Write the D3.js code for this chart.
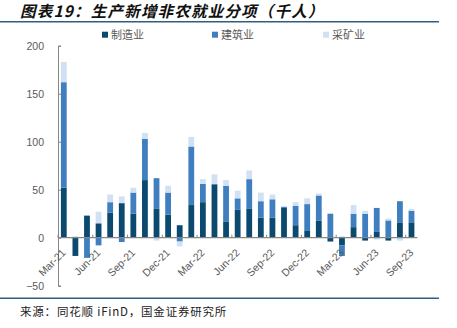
<!DOCTYPE html>
<html><head><meta charset="utf-8">
<script src="https://cdn.jsdelivr.net/npm/d3@7"></script>
<style>
html,body{margin:0;padding:0;background:#fff;}
svg{display:block;}
</style></head>
<body>
<svg id="c" width="457" height="328"></svg>
<script>
const months = ["Mar-21","Apr-21","May-21","Jun-21","Jul-21","Aug-21","Sep-21","Oct-21","Nov-21","Dec-21",
"Jan-22","Feb-22","Mar-22","Apr-22","May-22","Jun-22","Jul-22","Aug-22","Sep-22","Oct-22","Nov-22","Dec-22",
"Jan-23","Feb-23","Mar-23","Apr-23","May-23","Jun-23","Jul-23","Aug-23","Sep-23"];
const seriesNames = ["制造业","建筑业","采矿业"];
const manufacturing = [52,-19,23,15,26,36,25,60,30,24,13,34,37,55,17,29,30,21,21,31,13,7,18,-4,-8,11,-3,6,-3,16,16];
const construction = [110,0,-21,-8,11,-4.5,22,43,32,23,-4,61,19,1,37,12,31,17,19,1,20,28,26,25,-11,14,25,25,18,22,12];
const mining = [21,1.5,0,12,8,7,5,6,-3,7,-5,10,5,10,6,8,9,9,5,1,4,6,2,0,1.5,9,3,-2,2,-3,2];
const yTicks = [-50,0,50,100,150,200];
const colors = ["#0b4a6e","#3f7fc0","#cfe1f2"];

const title = "图表19：生产新增非农就业分项（千人）";
const source = "来源：同花顺 iFinD，国金证券研究所";

const svg = d3.select("#c");
const table = months.map((m,i)=>({m, "制造业":manufacturing[i], "建筑业":construction[i], "采矿业":mining[i]}));

const x = d3.scaleBand().domain(months).range([58, 417.3]).paddingInner(0.5).paddingOuter(0.25);
const y = d3.scaleLinear().domain([-50,200]).range([285.7,45.7]);

// title
svg.append("text").attr("x",20).attr("y",16.5)
  .attr("font-family","'Noto Sans CJK SC'").attr("font-size",15.5).attr("font-weight","bold")
  .attr("font-style","italic").attr("letter-spacing",1.2).attr("fill","#111").text(title);
svg.append("line").attr("x1",0).attr("x2",439).attr("y1",21.7).attr("y2",21.7)
  .attr("stroke","#2e5f82").attr("stroke-width",1.5);
svg.append("line").attr("x1",0).attr("x2",439).attr("y1",298.3).attr("y2",298.3)
  .attr("stroke","#2e5f82").attr("stroke-width",1.5);
svg.append("text").attr("x",20).attr("y",316)
  .attr("font-family","'Noto Sans CJK SC'").attr("font-size",11.5).attr("letter-spacing",0.8)
  .attr("fill","#222").text(source);

// legend
const legX = [102,212,323];
seriesNames.forEach((s,i)=>{
  svg.append("rect").attr("x",legX[i]).attr("y",31.7).attr("width",6).attr("height",6).attr("fill",colors[i]);
  svg.append("text").attr("x",legX[i]+9).attr("y",39.3)
    .attr("font-family","'Noto Sans CJK SC'").attr("font-size",11).attr("fill","#595959").text(s);
});

// bars
const stack = d3.stack().keys(seriesNames).offset(d3.stackOffsetDiverging);
const layers = stack(table);
svg.append("g").selectAll("g").data(layers).join("g")
  .attr("fill",(d,i)=>colors[i])
  .selectAll("rect").data(d=>d).join("rect")
  .attr("x",d=>x(d.data.m)).attr("width",x.bandwidth())
  .attr("y",d=>y(Math.max(d[0],d[1]))).attr("height",d=>Math.abs(y(d[0])-y(d[1])));

// y axis
const yAxis = d3.axisLeft(y).tickValues(yTicks).tickSizeInner(-3).tickSizeOuter(-3).tickPadding(14);
const gy = svg.append("g").attr("transform","translate(58,0)").call(yAxis);
gy.selectAll("path,line").attr("stroke","#868686");
gy.selectAll("text").attr("font-family","'Liberation Sans',Arial").attr("font-size",10.5).attr("fill","#595959");

// x axis
const y0 = y(0);
svg.append("line").attr("x1",58).attr("x2",417.3).attr("y1",y0).attr("y2",y0).attr("stroke","#868686").attr("stroke-width",1.2);
const labelled = months.filter((m,i)=>i%3===0);
svg.append("g").selectAll("line").data(labelled).join("line")
  .attr("x1",d=>x(d)-x.step()*x.paddingInner()/2).attr("x2",d=>x(d)-x.step()*x.paddingInner()/2)
  .attr("y1",y0-3).attr("y2",y0).attr("stroke","#868686");
svg.append("g").selectAll("text").data(labelled).join("text")
  .attr("transform",d=>`translate(${x(d)+x.bandwidth()/2},${y0+13}) rotate(-45)`)
  .attr("text-anchor","end").attr("dy","0.35em")
  .attr("font-family","'Liberation Sans',Arial").attr("font-size",10.5).attr("fill","#595959")
  .text(d=>d);
</script>
</body></html>
